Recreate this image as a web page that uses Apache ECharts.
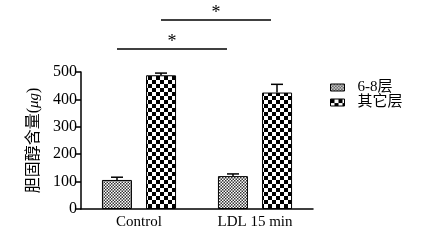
<!DOCTYPE html>
<html>
<head>
<meta charset="utf-8">
<script src="https://cdn.jsdelivr.net/npm/echarts@6/dist/echarts.min.js"></script>
<style>
  html, body { margin: 0; padding: 0; background: #fff; }
  #main { width: 422px; height: 242px; }
</style>
</head>
<body>
<div id="main"></div>
<script>
var categories = ['Control', 'LDL 15 min']
var seriesNames = ['6-8层', '其它层']
var layer68 = [106, 120]
var layer68Err = [10, 8]
var otherLayer = [488, 425]
var otherLayerErr = [8, 30]
var yTicks = [0, 100, 200, 300, 400, 500]

var serif = '"Liberation Serif", "Times New Roman", "Noto Sans CJK SC", serif'

// checker pattern for the bars
function checker(cell, dark) {
  var c = document.createElement('canvas')
  c.width = cell * 2
  c.height = cell * 2
  var ctx = c.getContext('2d')
  ctx.fillStyle = '#fff'
  ctx.fillRect(0, 0, c.width, c.height)
  ctx.fillStyle = dark
  ctx.fillRect(0, 0, cell, cell)
  ctx.fillRect(cell, cell, cell, cell)
  return { image: c, repeat: 'repeat' }
}
var fine = checker(1.5, '#333')
var coarse = checker(4, '#000')

var barOffset = 22

function errSeries(vals, errs, side) {
  var data = vals.map(function(v, i) { return [i, v, v + errs[i]] })
  return {
    type: 'custom',
    silent: true,
    z: 3,
    renderItem: function(params, api) {
      var lo = api.coord([api.value(0), api.value(1)])
      var hi = api.coord([api.value(0), api.value(2)])
      var x = lo[0] + side * barOffset
      var style = { stroke: '#000', lineWidth: 1.5 }
      return {
        type: 'group',
        children: [
          { type: 'line', shape: { x1: x, y1: lo[1], x2: x, y2: hi[1] }, style: style },
          { type: 'line', shape: { x1: x - 6, y1: hi[1], x2: x + 6, y2: hi[1] }, style: style }
        ]
      }
    },
    data: data
  }
}

var chart = echarts.init(document.getElementById('main'))
chart.setOption({
  animation: false,
  grid: { left: 81, right: 109, top: 72, bottom: 33 },
  legend: {
    orient: 'vertical',
    left: 325,
    top: 75,
    icon: 'rect',
    itemWidth: 14,
    itemHeight: 7,
    itemGap: 0,
    data: seriesNames,
    textStyle: { fontFamily: serif, fontSize: 15, color: '#000', lineHeight: 13, padding: [0, 0, 0, 8] },
    itemStyle: { borderColor: '#000', borderWidth: 1 }
  },
  xAxis: {
    type: 'category',
    data: categories,
    axisLine: { lineStyle: { color: '#000', width: 1.5 } },
    axisTick: { alignWithLabel: true, length: 4, lineStyle: { color: '#000', width: 1 } },
    axisLabel: { fontFamily: serif, fontSize: 15, color: '#000', margin: 6 }
  },
  yAxis: {
    type: 'value',
    min: yTicks[0],
    max: yTicks[yTicks.length - 1],
    interval: 100,
    name: '{a|胆固醇含量(}{b|μg}{a|)}',
    nameLocation: 'middle',
    nameGap: 39,
    nameRotate: 90,
    nameTextStyle: {
      rich: {
        a: { fontFamily: serif, fontSize: 16, color: '#000' },
        b: { fontFamily: serif, fontSize: 15, fontStyle: 'italic', color: '#000' }
      }
    },
    splitLine: { show: false },
    axisLine: { show: true, lineStyle: { color: '#000', width: 1.5 } },
    axisTick: { show: true, length: 5, lineStyle: { color: '#000', width: 1.5 } },
    axisLabel: { fontFamily: serif, fontSize: 16, color: '#000', margin: 4 }
  },
  series: [
    {
      name: seriesNames[0],
      type: 'bar',
      barWidth: 30,
      barGap: '47%',
      itemStyle: { color: fine, borderColor: '#000', borderWidth: 1 },
      data: layer68
    },
    {
      name: seriesNames[1],
      type: 'bar',
      barWidth: 30,
      itemStyle: { color: coarse, borderColor: '#000', borderWidth: 1 },
      data: otherLayer
    },
    errSeries(layer68, layer68Err, -1),
    errSeries(otherLayer, otherLayerErr, 1)
  ]
})

// significance brackets, placed from the category positions
function bracket(fromIdx, toIdx, side, y) {
  var x1 = chart.convertToPixel({ xAxisIndex: 0 }, categories[fromIdx]) + side * barOffset
  var x2 = chart.convertToPixel({ xAxisIndex: 0 }, categories[toIdx]) + side * barOffset - 6
  return [
    { type: 'line', shape: { x1: x1, y1: y, x2: x2, y2: y }, style: { stroke: '#000', lineWidth: 1.5 } },
    { type: 'text', x: (x1 + x2) / 2, y: y + 2, style: { text: '*', fontFamily: serif, fontSize: 18, fill: '#000', align: 'center', verticalAlign: 'bottom' } }
  ]
}
chart.setOption({
  graphic: bracket(0, 1, -1, 49).concat(bracket(0, 1, 1, 20))
})
</script>
</body>
</html>
